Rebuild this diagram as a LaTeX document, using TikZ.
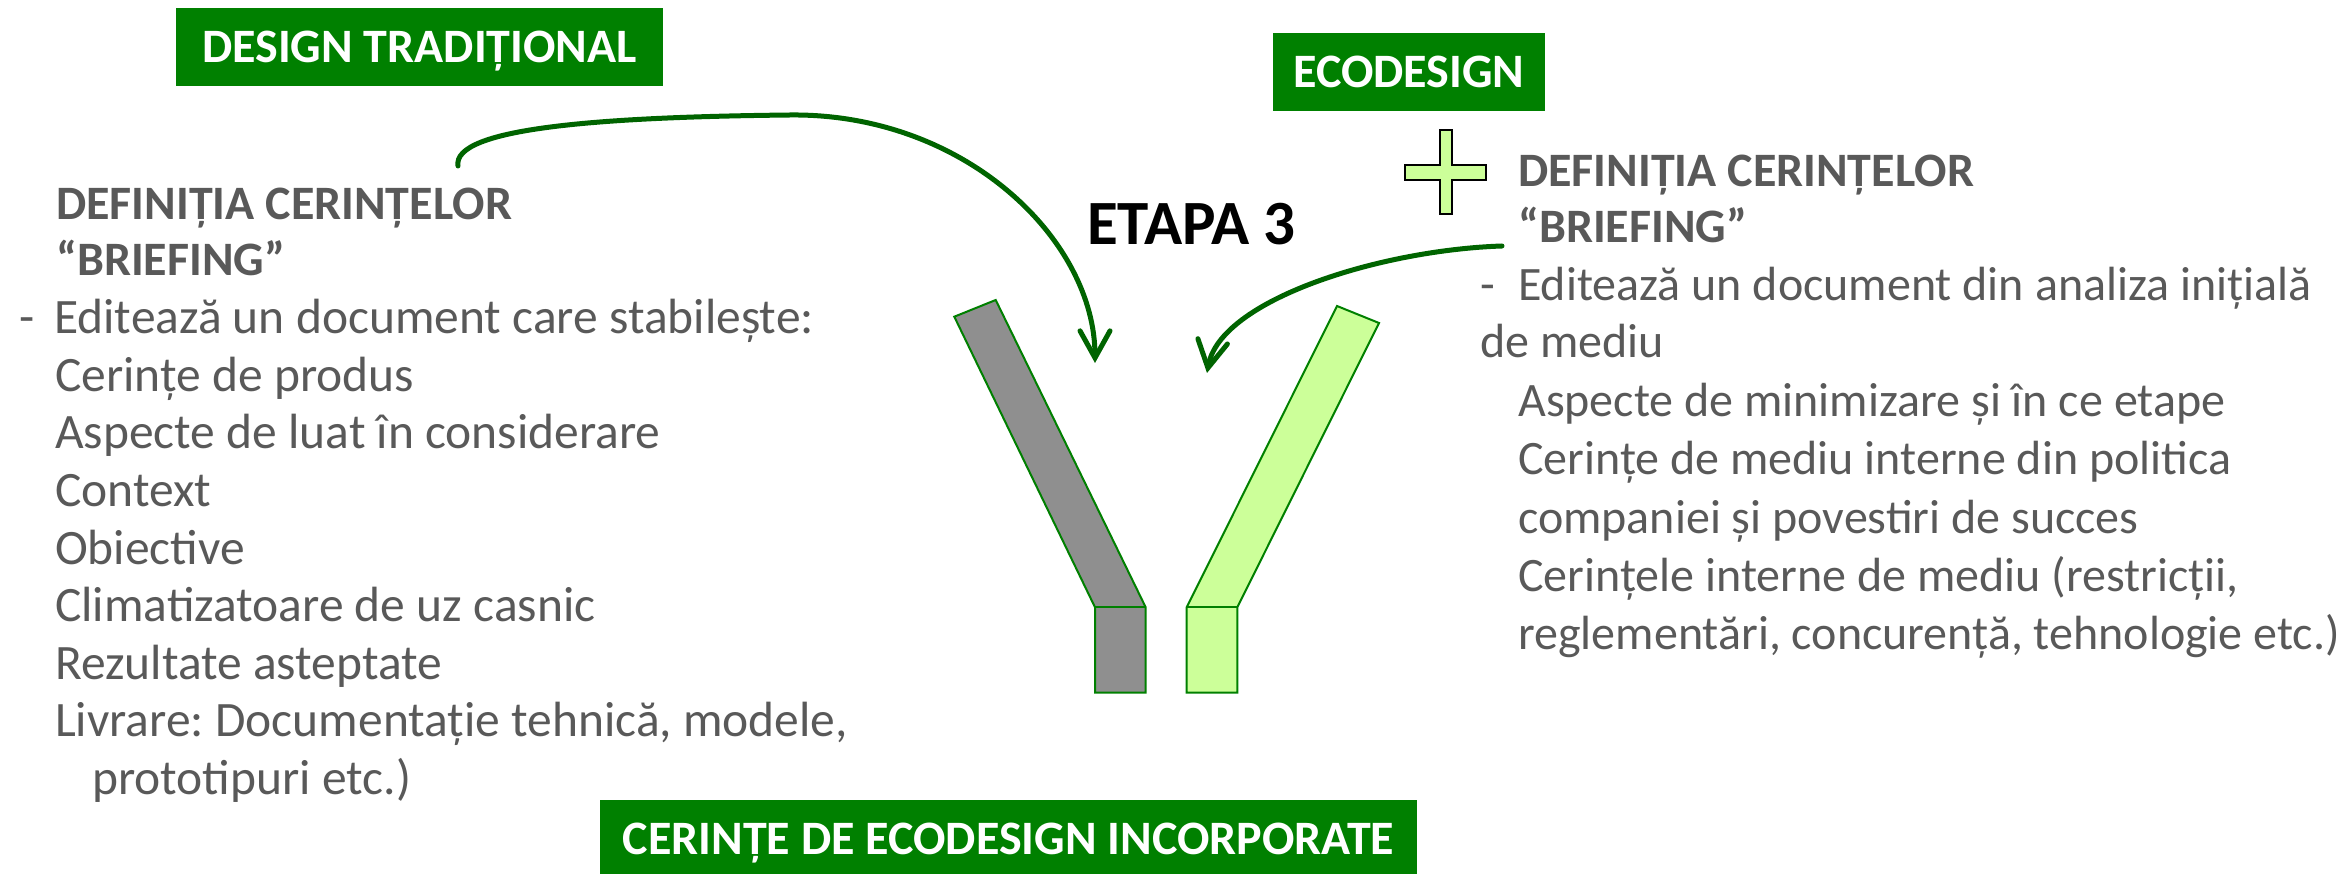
\documentclass[tikz,border=0pt]{standalone}
\usepackage{fontspec}
\setmainfont{Carlito}
\usetikzlibrary{arrows.meta}
\definecolor{boxgreen}{RGB}{0,128,0}
\definecolor{arrowgreen}{RGB}{0,100,0}
\definecolor{txtgray}{RGB}{89,89,89}
\definecolor{bargray}{RGB}{143,143,143}
\definecolor{lightgreen}{RGB}{204,255,153}
\frenchspacing
\begin{document}
\begin{tikzpicture}[x=1pt,y=-1pt,
  titlebox/.style={fill=boxgreen,text=white,font=\fontsize{48}{56}\selectfont\bfseries,inner sep=0pt,text height=31pt,text depth=0pt},
  body/.style={text=txtgray,font=\fontsize{49.5}{57}\selectfont,inner sep=0pt,anchor=base west},
  rbody/.style={text=txtgray,font=\fontsize{48}{57}\selectfont,inner sep=0pt,anchor=base west},
  head/.style={text=txtgray,font=\fontsize{48}{56}\selectfont\bfseries,inner sep=0pt,anchor=base west},
  bar/.style={draw=boxgreen,line width=2pt,line join=miter},
  curvearrow/.style={draw=arrowgreen,line width=5pt,line cap=round,-{Straight Barb[length=27pt,width=30pt,line cap=round]}}]
\useasboundingbox (0,0) rectangle (2351,874);

% title boxes
\node[titlebox,minimum width=487pt,minimum height=78pt] (dt) at (419.5,47) {DESIGN TRADIȚIONAL};
\node[titlebox,minimum width=272pt,minimum height=78pt] (eco) at (1409,72) {ECODESIGN};
\node[titlebox,minimum width=817pt,minimum height=78pt] (inc) at (1008.5,839) {CERINȚE DE ECODESIGN INCORPORATE};

% stage label
\node[font=\fontsize{63}{70}\selectfont\bfseries,inner sep=0pt,anchor=base west] (etapa) at (1087,245) {ETAPA 3};

% left text block
\node[head] (lh1) at (56,220) {DEFINIȚIA CERINȚELOR};
\node[head] (lh2) at (56,276) {“BRIEFING”};
\node[body] (ld) at (19,334) {-};
\node[body] (l1) at (54,334) {Editează un document care stabilește:};
\node[body] (l2) at (55,391.5) {Cerințe de produs};
\node[body] (l3) at (55,449) {Aspecte de luat în considerare};
\node[body] (l4) at (55,506.5) {Context};
\node[body] (l5) at (55,564) {Obiective};
\node[body] (l6) at (55,621.5) {Climatizatoare de uz casnic};
\node[body] (l7) at (55,679) {Rezultate asteptate};
\node[body] (l8) at (55,736.5) {Livrare: Documentație tehnică, modele,};
\node[body] (l9) at (92,794) {prototipuri etc.)};

% right text block
\node[head] (rh1) at (1518,187) {DEFINIȚIA CERINȚELOR};
\node[head] (rh2) at (1518,243) {“BRIEFING”};
\node[rbody] (rd) at (1480,301) {-};
\node[rbody] (r1) at (1518,301) {Editează un document din analiza inițială};
\node[rbody] (r2) at (1480,358) {de mediu};
\node[rbody] (r3) at (1518,417) {Aspecte de minimizare și în ce etape};
\node[rbody] (r4) at (1518,475) {Cerințe de mediu interne din politica};
\node[rbody] (r5) at (1518,533) {companiei și povestiri de succes};
\node[rbody] (r6) at (1518,591) {Cerințele interne de mediu (restricții,};
\node[rbody] (r7) at (1518,649) {reglementări, concurență, tehnologie etc.)};

% plus sign
\draw[black,line width=2pt,fill=lightgreen] (1440,130) -- (1452,130) -- (1452,165) -- (1486,165) -- (1486,180) -- (1452,180) -- (1452,214) -- (1440,214) -- (1440,180) -- (1405,180) -- (1405,165) -- (1440,165) -- cycle;

% bars
\draw[bar,fill=bargray] (954.3,316.7) -- (995.7,300) -- (1145.7,607.3) -- (1145.7,692.7) -- (1095,692.7) -- (1095,607.3) -- cycle;
\draw[bar] (1095,607.3) -- (1145.7,607.3);
\draw[bar,fill=lightgreen] (1337,306) -- (1379,323) -- (1237.3,607.3) -- (1237.3,692.7) -- (1186.7,692.7) -- (1186.7,607.3) -- cycle;
\draw[bar] (1186.7,607.3) -- (1237.3,607.3);

% arrows
\coordinate (a1s) at (458,166);
\coordinate (a1m) at (790,115);
\coordinate (a1e) at (1095,363);
\coordinate (a2s) at (1502,246);
\coordinate (a2e) at (1207,373);
\draw[curvearrow] (a1s) .. controls (452,128) and (600,117) .. (a1m) .. controls (965,113) and (1095,240) .. (a1e);
\draw[curvearrow] (a2s) .. controls (1380,250) and (1220,300) .. (a2e);
\end{tikzpicture}
\end{document}
